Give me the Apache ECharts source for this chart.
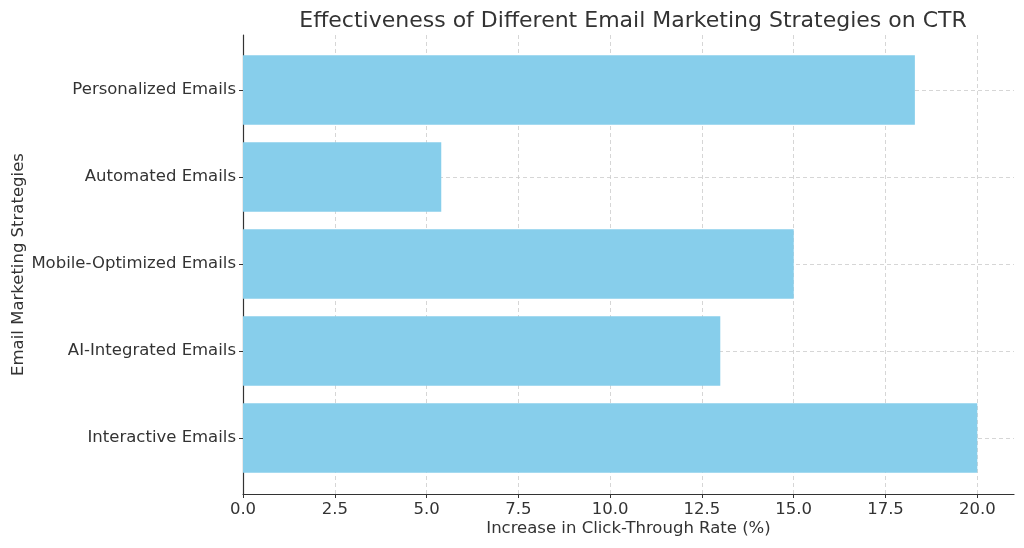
<!DOCTYPE html>
<html>
<head>
<meta charset="utf-8">
<script src="https://cdn.jsdelivr.net/npm/echarts@6/dist/echarts.min.js"></script>
<style>html,body{margin:0;padding:0;background:#fff}#c{width:1024px;height:548px}</style>
</head>
<body>
<div id="c"></div>
<script>
const categories = ['Interactive Emails','AI-Integrated Emails','Mobile-Optimized Emails','Automated Emails','Personalized Emails'];
const values = [20, 13, 15, 5.4, 18.3];
const xTickStep = 2.5;

const font = 'DejaVu Sans';
const fs = 16.5;
const chart = echarts.init(document.getElementById('c'));
// x scale 0..21 spans 243..1014 px; ticked sub-range 0..20 ends at 243 + 771*20/21
const rightTicked = 1024 - (243 + 771 * 20 / 21);
chart.setOption({
  animation: false,
  backgroundColor: '#fff',
  title: {
    text: 'Effectiveness of Different Email Marketing Strategies on CTR',
    left: 628, top: 5, textAlign: 'center',
    textStyle: {fontFamily: font, fontSize: 22, fontWeight: 'normal', color: '#333'}
  },
  grid: [
    {left: 243, right: 10, top: 90, bottom: 110},
    {left: 243, right: 10, top: 35, bottom: 54},
    {left: 243, right: rightTicked, top: 35, bottom: 54}
  ],
  xAxis: [
    {gridIndex: 0, type: 'value', min: 0, max: 21, show: false},
    {gridIndex: 1, type: 'value', min: 0, max: 21,
     axisLine: {show: true, lineStyle: {color: '#333', width: 1.2}},
     axisTick: {show: false}, axisLabel: {show: false}, splitLine: {show: false},
     name: 'Increase in Click-Through Rate (%)', nameLocation: 'middle', nameGap: 26,
     nameTextStyle: {fontFamily: font, fontSize: fs, color: '#333'}},
    {gridIndex: 2, type: 'value', min: 0, max: 20, interval: xTickStep,
     axisLine: {show: false},
     axisTick: {show: true, length: 4, lineStyle: {color: '#333'}},
     axisLabel: {fontFamily: font, fontSize: fs, color: '#333', margin: 7,
       formatter: v => v.toFixed(1)},
     splitLine: {show: true, lineStyle: {color: '#ccc', type: [4, 3], width: 0.8}}}
  ],
  yAxis: [
    {gridIndex: 0, type: 'category', data: categories, boundaryGap: false,
     axisLine: {show: false},
     axisTick: {show: true, length: 4, lineStyle: {color: '#333'}},
     axisLabel: {fontFamily: font, fontSize: fs, color: '#333', margin: 7},
     splitLine: {show: true, lineStyle: {color: '#ccc', type: [4, 3], width: 0.8}}},
    {gridIndex: 1, type: 'value', min: 0, max: 1,
     axisLine: {show: true, lineStyle: {color: '#333', width: 1.2}},
     axisTick: {show: false}, axisLabel: {show: false}, splitLine: {show: false},
     name: 'Email Marketing Strategies', nameLocation: 'middle', nameGap: 216,
     nameTextStyle: {fontFamily: font, fontSize: fs, color: '#333'}},
    {gridIndex: 2, type: 'value', min: 0, max: 1, show: false}
  ],
  series: [
    {type: 'bar', xAxisIndex: 0, yAxisIndex: 0, data: values, barWidth: 69.6, clip: false,
     itemStyle: {color: '#87CEEB'}, z: 1},
    {type: 'scatter', xAxisIndex: 1, yAxisIndex: 1, data: [], silent: true},
    {type: 'scatter', xAxisIndex: 2, yAxisIndex: 2, data: [], silent: true}
  ]
});
</script>
</body>
</html>
